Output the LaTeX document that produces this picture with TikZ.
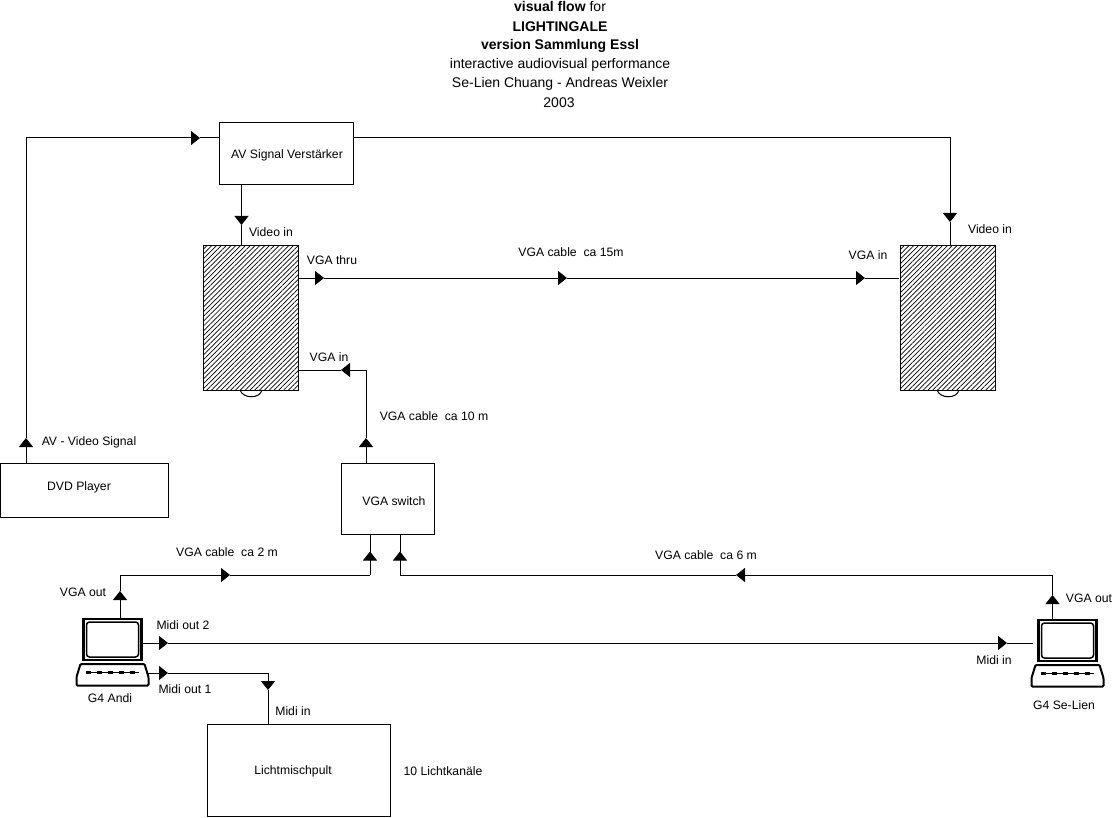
\documentclass[tikz,border=0pt]{standalone}
\usepackage{fontspec}
\setmainfont{Liberation Sans}
\usetikzlibrary{arrows.meta,patterns.meta}

\tikzset{
  box/.style={draw, rectangle, inner sep=0pt, outer sep=0pt, line width=1pt},
  beamer/.style={box, minimum width=95pt, minimum height=145pt,
    pattern={Lines[angle=45,distance=3.4pt,line width=.7pt]}},
  txt/.style={inner sep=0pt, font=\fontsize{12.2}{14}\selectfont},
  title/.style={inner sep=0pt, font=\fontsize{14}{16}\selectfont},
  wire/.style={line width=1pt},
  flow/.style={line width=1pt, -{Triangle[length=9pt,width=14pt]}},
  computer/.pic={
    \node[draw, line width=2.5pt, inner sep=0pt, outer sep=0pt, minimum width=58pt, minimum height=41pt] (-screen) at (0,0) {};
    \draw[line width=1.5pt, rounded corners=3pt] (-26,-17.5) rectangle (26,17.5);
    \draw[line width=2pt, rounded corners=1pt] (-32,24.5) -- (32,24.5) -- (36,37.5) -- (36,46) -- (-36,46) -- (-36,37.5) -- cycle;
    \draw[line width=1pt] (-27,33) -- (26,33);
    \draw[line width=3pt, dash pattern=on 5pt off 6pt] (-27,33) -- (26,33);
  }
}

\begin{document}
\begin{tikzpicture}[x=1pt,y=-1pt]
  \useasboundingbox (0,0) rectangle (1115,818);

  % title
  \draw (560,7)   node[title] (t1) {\textbf{visual flow} for};
  \draw (560,27)  node[title] (t2) {\textbf{LIGHTINGALE}};
  \draw (560,46)  node[title] (t3) {\textbf{version Sammlung Essl}};
  \draw (560,65)  node[title] (t4) {interactive audiovisual performance};
  \draw (560,84)  node[title] (t5) {Se-Lien Chuang - Andreas Weixler};
  \draw (559,103) node[title] (t6) {2003};

  % devices
  \draw (286,154)     node[box, minimum width=134pt, minimum height=62pt] (amp) {};
  \draw (250.5,317.5) node[beamer] (beamerL) {};
  \draw (947.5,317.5) node[beamer] (beamerR) {};
  \draw (84.5,490)    node[box, minimum width=168pt, minimum height=54pt] (dvd) {};
  \draw (387.5,499)   node[box, minimum width=93pt, minimum height=71pt] (switch) {};
  \draw (298.5,770)   node[box, minimum width=183pt, minimum height=92pt] (mixer) {};
  \pic (andi) at (112.5,639.5) {computer};
  \pic (selien) at (1067.5,640.5) {computer};

  % beamer lenses
  \draw[wire] (240,390) .. controls (243,399) and (260,399) .. (262,390);
  \draw[wire] (937,390) .. controls (940,399) and (957,399) .. (959,390);

  % device labels
  \draw (287,155)  node[txt] (lamp) {AV Signal Verst\"arker};
  \draw (79,487)   node[txt] (ldvd) {DVD Player};
  \draw (394,501)  node[txt] (lswitch) {VGA switch};
  \draw (293,771)  node[txt] (lmixer) {Lichtmischpult};
  \draw (443,771)  node[txt] (lchan) {10 Lichtkan\"ale};
  \draw (110,698)  node[txt] (landi) {G4 Andi};
  \draw (1064,705) node[txt] (lselien) {G4 Se-Lien};

  % connector labels
  \draw (271,232)  node[txt] (l1) {Video in};
  \draw (990,229)  node[txt] (l2) {Video in};
  \draw (332,260)  node[txt] (l3) {VGA thru};
  \draw (571,252)  node[txt] (l4) {VGA cable\ \ ca 15m};
  \draw (868,255)  node[txt] (l5) {VGA in};
  \draw (329,357)  node[txt] (l6) {VGA in};
  \draw (434,416)  node[txt] (l7) {VGA cable\ \ ca 10 m};
  \draw (89,442)   node[txt] (l8) {AV - Video Signal};
  \draw (227,552)  node[txt] (l9) {VGA cable\ \ ca 2 m};
  \draw (706,555)  node[txt] (l10) {VGA cable\ \ ca 6 m};
  \draw (83,592)   node[txt] (l11) {VGA out};
  \draw (1089,598) node[txt] (l12) {VGA out};
  \draw (183,625)  node[txt] (l13) {Midi out 2};
  \draw (185,689)  node[txt] (l14) {Midi out 1};
  \draw (994,660)  node[txt] (l15) {Midi in};
  \draw (293,711)  node[txt] (l16) {Midi in};

  % corners, arrow points and ends of the wires
  \coordinate (dvdOut) at (26,463);
  \coordinate (tipA) at (26,438);
  \coordinate (cornerA) at (26,138);
  \coordinate (tipB) at (200,138);
  \coordinate (ampIn) at (219,138);
  \coordinate (ampOut) at (353,138);
  \coordinate (cornerB) at (950,138);
  \coordinate (tipC) at (950,222);
  \coordinate (beamerRin) at (950,245);
  \coordinate (ampDown) at (241.5,185);
  \coordinate (tipD) at (241.5,225);
  \coordinate (beamerLin) at (241.5,245);
  \coordinate (thruOut) at (298,278);
  \coordinate (tipE) at (324,278);
  \coordinate (tipF) at (567,278);
  \coordinate (tipG) at (865,278);
  \coordinate (thruIn) at (899,278);
  \coordinate (switchOut) at (366,463);
  \coordinate (tipH) at (366,438);
  \coordinate (cornerC) at (366,370);
  \coordinate (tipI) at (341,370);
  \coordinate (beamerLvga) at (298,370);
  \coordinate (andiOut) at (120,618);
  \coordinate (tipJ) at (120,591);
  \coordinate (cornerD) at (120,575);
  \coordinate (tipK) at (230,575);
  \coordinate (cornerE) at (370,575);
  \coordinate (tipL) at (370,551.5);
  \coordinate (switchInL) at (370,534.5);
  \coordinate (selienOut) at (1052.5,620);
  \coordinate (tipM) at (1052.5,595);
  \coordinate (cornerF) at (1052.5,575);
  \coordinate (tipN) at (736,575);
  \coordinate (cornerG) at (400,575);
  \coordinate (tipO) at (400,551.5);
  \coordinate (switchInR) at (400,534.5);
  \coordinate (midi2) at (142.5,643);
  \coordinate (tipP) at (168,643);
  \coordinate (tipQ) at (1007,643);
  \coordinate (midi2end) at (1033,643);
  \coordinate (midi1) at (147,673);
  \coordinate (tipR) at (168,673);
  \coordinate (cornerH) at (268,673);
  \coordinate (tipS) at (268,690);
  \coordinate (mixerIn) at (268,724);

  % video signal
  \draw[flow] (dvdOut) -- (tipA);
  \draw[flow] (tipA) -- (cornerA) -- (tipB);
  \draw[wire] (tipB) -- (ampIn);
  \draw[flow] (ampOut) -- (cornerB) -- (tipC);
  \draw[wire] (tipC) -- (beamerRin);
  \draw[flow] (ampDown) -- (tipD);
  \draw[wire] (tipD) -- (beamerLin);

  % vga
  \draw[flow] (thruOut) -- (tipE);
  \draw[flow] (tipE) -- (tipF);
  \draw[flow] (tipF) -- (tipG);
  \draw[wire] (tipG) -- (thruIn);
  \draw[flow] (switchOut) -- (tipH);
  \draw[wire] (tipH) -- (cornerC);
  \draw[flow] (cornerC) -- (tipI);
  \draw[wire] (tipI) -- (beamerLvga);
  \draw[flow] (andiOut) -- (tipJ);
  \draw[wire] (tipJ) -- (cornerD);
  \draw[flow] (cornerD) -- (tipK);
  \draw[wire] (tipK) -- (cornerE);
  \draw[flow] (cornerE) -- (tipL);
  \draw[wire] (tipL) -- (switchInL);
  \draw[flow] (selienOut) -- (tipM);
  \draw[wire] (tipM) -- (cornerF);
  \draw[flow] (cornerF) -- (tipN);
  \draw[wire] (tipN) -- (cornerG);
  \draw[flow] (cornerG) -- (tipO);
  \draw[wire] (tipO) -- (switchInR);

  % midi
  \draw[flow] (midi2) -- (tipP);
  \draw[flow] (tipP) -- (tipQ);
  \draw[wire] (tipQ) -- (midi2end);
  \draw[flow] (midi1) -- (tipR);
  \draw[flow] (tipR) -- (cornerH) -- (tipS);
  \draw[wire] (tipS) -- (mixerIn);

\end{tikzpicture}
\end{document}
